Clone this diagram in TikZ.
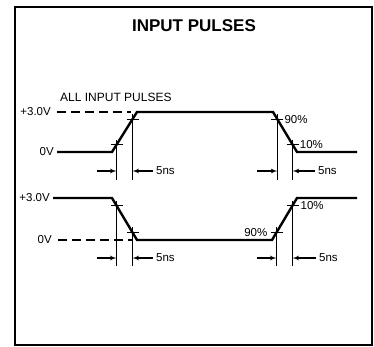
\documentclass[tikz,border=0pt]{standalone}
\usepackage{fontspec}
\setmainfont{Liberation Sans}
\usetikzlibrary{arrows, calc, positioning}

\begin{document}
\begin{tikzpicture}
  [
  x = 1pt, y = -1pt,
  % signal
  signal/.style = {draw, line width = 2.4pt, line join = miter},
  % level
  level/.style = {draw, line width = 1.5pt,
    dash pattern = on 9pt off 5pt, shorten < = 3pt},
  % marker
  marker/.style = {draw, line width = 1pt},
  % line
  line/.style = {draw, line width = 1.2pt, -latex'},
  lbl/.style = {inner sep = 3pt, font = \fontsize{11.5}{13}\selectfont},
  ]

  \useasboundingbox (0,0) rectangle (374,346);
  \draw [line width = 1.4pt] (15,7) rectangle (372,345);

  % nodes
  \node [font = \bfseries\fontsize{17}{20}\selectfont] (title) at (194,26) {INPUT PULSES};
  \node [lbl, anchor = west, font = \fontsize{12}{14}\selectfont] (all) at (57,97.5) {ALL INPUT PULSES};
  \node [lbl, anchor = east] (hiA) at (54,112) {+3.0V};
  \node [lbl, anchor = east] (loA) at (57,152) {0V};
  \node [lbl, anchor = east] (hiB) at (53,198) {+3.0V};
  \node [lbl, anchor = east] (loB) at (55,240) {0V};

  % waveform corners
  \coordinate (a1) at (112,152);
  \coordinate (a2) at (137,112);
  \coordinate (a3) at (273,112);
  \coordinate (a4) at (297,152);
  \coordinate (a5) at (357,152);
  \coordinate (b1) at (112,198);
  \coordinate (b2) at (137,240);
  \coordinate (b3) at (272,240);
  \coordinate (b4) at (297,198);
  \coordinate (b5) at (357,198);
  \coordinate (da) at (131,112);
  \coordinate (db) at (132,240);

  % crossing points
  \coordinate (r1) at ($(a1)!0.18!(a2)$);
  \coordinate (r2) at ($(a1)!0.82!(a2)$);
  \coordinate (f1) at ($(a3)!0.18!(a4)$);
  \coordinate (f2) at ($(a3)!0.82!(a4)$);
  \coordinate (g1) at ($(b1)!0.18!(b2)$);
  \coordinate (g2) at ($(b1)!0.82!(b2)$);
  \coordinate (s1) at ($(b3)!0.18!(b4)$);
  \coordinate (s2) at ($(b3)!0.82!(b4)$);
  \coordinate (baseA) at (0,180);
  \coordinate (baseB) at (0,266);

  % path
  \path [level] (hiA) -- (da);
  \path [level] (loB) -- (db);
  \path [signal] (loA) -- (a1) -- (a2) -- (a3) -- (a4) -- (a5);
  \path [signal] (hiB) -- (b1) -- (b2) -- (b3) -- (b4) -- (b5);

  \foreach \p/\b in {r1/baseA, r2/baseA, f1/baseA, f2/baseA,
                     g1/baseB, g2/baseB, s1/baseB, s2/baseB} {
    \path [marker] ([xshift=-6pt]\p) -- ([xshift=6pt]\p);
    \path [marker] ([yshift=5pt]\p) -- (\p |- \b);
  }

  % percent labels
  \node [lbl, anchor = west] (pa) at ([xshift=4pt]f1) {90\%};
  \node [lbl, anchor = west] (pb) at ([xshift=4pt]f2) {10\%};
  \node [lbl, anchor = west] (pc) at ([xshift=5pt]s2) {10\%};
  \node [lbl, anchor = east] (pd) at ([xshift=-6pt]s1) {90\%};

  % timing
  \node [lbl, anchor = west] (nsA) at (153,171) {5ns};
  \node [lbl, anchor = west] (nsB) at (315,171) {5ns};
  \node [lbl, anchor = west] (nsC) at (153,258) {5ns};
  \node [lbl, anchor = west] (nsD) at (316,258) {5ns};
  \coordinate (ta) at ($(r1 |- nsA)+(-20,0)$);
  \coordinate (tb) at ($(f1 |- nsB)+(-20,0)$);
  \coordinate (tc) at ($(g1 |- nsC)+(-20,0)$);
  \coordinate (td) at ($(s1 |- nsD)+(-20,0)$);
  \path [line] (ta) -- (r1 |- nsA);
  \path [line] (nsA) -- (r2 |- nsA);
  \path [line] (tb) -- (f1 |- nsB);
  \path [line] (nsB) -- (f2 |- nsB);
  \path [line] (tc) -- (g1 |- nsC);
  \path [line] (nsC) -- (g2 |- nsC);
  \path [line] (td) -- (s1 |- nsD);
  \path [line] (nsD) -- (s2 |- nsD);

\end{tikzpicture}
\end{document}
